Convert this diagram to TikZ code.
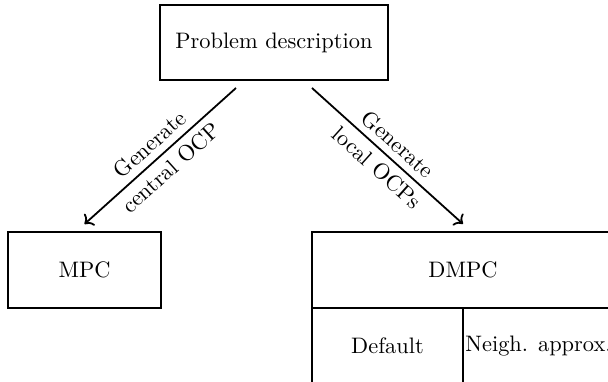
\documentclass[tikz,border=0pt]{standalone}
\usetikzlibrary{positioning, arrows.meta}
\tikzset{
box/.style = {rectangle, draw, thick, inner sep = 1pt, outer sep = 0pt,
	minimum width = 2.37cm, minimum height = 1.19cm},
flow/.style = {->, thick},
step label/.style = {sloped, anchor = center, align = center}
}
\begin{document}
\begin{tikzpicture}
\useasboundingbox (0,0) rectangle (9.545,-5.997);

%% Problem
\node at (4.300,-0.667) [box, minimum width = 3.575cm, minimum height = 1.177cm] (problem) {Problem description};

%% Controllers
\node at (1.327,-4.239) [box, minimum width = 2.394cm] (mpc) {MPC};
\node at (4.898,-3.642) [box, anchor = north west, minimum width = 4.741cm] (dmpc) {DMPC};
\node at (dmpc.south west) [box, anchor = north west] (default) {Default};
\node [box, right = 0pt of default] (neigh) {Neigh. approx.};

%% The arrows
\path [flow] ([shift={(-5.95mm,-1.26mm)}]problem.south) edge node [step label] {Generate\\[2pt]central OCP} ([yshift=1.26mm]mpc.north);
\path [flow] ([shift={(5.98mm,-1.26mm)}]problem.south) edge node [step label] {Generate\\[2pt]local OCPs} ([yshift=1.26mm]dmpc.north);

\end{tikzpicture}
\end{document}
